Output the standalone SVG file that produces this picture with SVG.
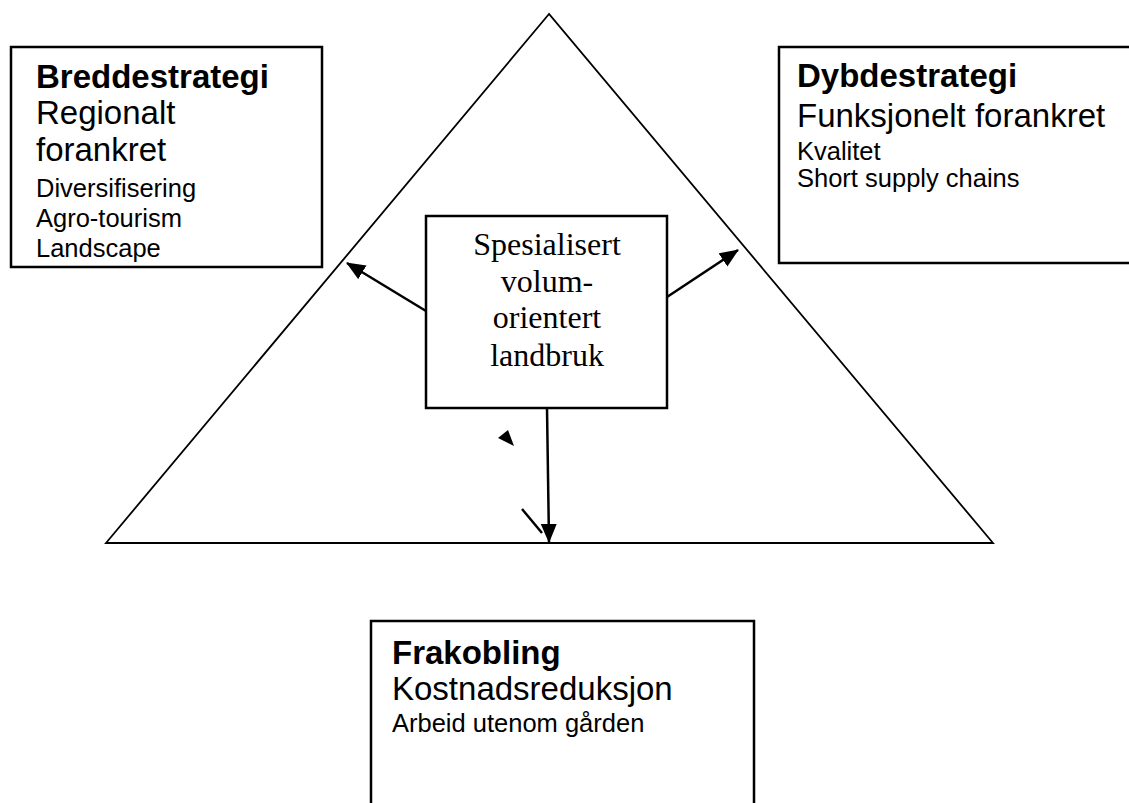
<svg xmlns="http://www.w3.org/2000/svg" width="1129" height="803" viewBox="0 0 1129 803">
<defs>
<style>
.box{fill:#fff;stroke:#000;stroke-width:2.5}
.tri{fill:none;stroke:#000;stroke-width:1.8}
.conn{fill:none;stroke:#000;stroke-width:2.5}
.a{font-family:"Liberation Sans",Arial,sans-serif;fill:#000}
.b{font-weight:bold;font-size:33px}
.l{font-size:33px}
.s{font-size:25.5px}
.t{font-family:"Liberation Serif","Times New Roman",serif;font-size:32px;fill:#000;text-anchor:middle}
</style>
<marker id="ah" markerUnits="userSpaceOnUse" markerWidth="22" markerHeight="18" refX="18" refY="8" orient="auto">
<path d="M0,0 L19,8 L0,16 Z" fill="#000"/>
</marker>
</defs>
<rect width="1129" height="803" fill="#fff"/>
<g id="triangle">
<path class="tri" d="M549,14 L106,543 L993,543 Z"/>
</g>
<g id="breddestrategi">
<rect class="box" x="11" y="47" width="311" height="220"/>
<text class="a b" x="36" y="88">Breddestrategi</text>
<text class="a l" x="36" y="124">Regionalt</text>
<text class="a l" x="36" y="161">forankret</text>
<text class="a s" x="36" y="197">Diversifisering</text>
<text class="a s" x="36" y="227">Agro-tourism</text>
<text class="a s" x="36" y="257">Landscape</text>
</g>
<g id="dybdestrategi">
<rect class="box" x="779" y="47" width="360" height="216"/>
<text class="a b" x="797" y="87">Dybdestrategi</text>
<text class="a l" x="797" y="127">Funksjonelt forankret</text>
<text class="a s" x="797" y="160">Kvalitet</text>
<text class="a s" x="797" y="187">Short supply chains</text>
</g>
<g id="spesialisert">
<rect class="box" x="426" y="216" width="241" height="192"/>
<text class="t" x="547" y="255">Spesialisert</text>
<text class="t" x="547" y="292">volum-</text>
<text class="t" x="547" y="328">orientert</text>
<text class="t" x="547" y="366">landbruk</text>
</g>
<g id="frakobling">
<path class="box" d="M371,810 L371,621 L754,621 L754,810"/>
<text class="a b" x="392" y="664">Frakobling</text>
<text class="a l" x="392" y="700">Kostnadsreduksjon</text>
<text class="a s" x="392" y="732">Arbeid utenom gården</text>
</g>
<g id="connectors">
<line class="conn" x1="426" y1="311" x2="347" y2="263" marker-end="url(#ah)"/>
<line class="conn" x1="667" y1="297" x2="738" y2="250" marker-end="url(#ah)"/>
<line class="conn" x1="547" y1="408" x2="549" y2="542" marker-end="url(#ah)"/>
<line class="conn" x1="522" y1="509" x2="542" y2="533"/>
<path d="M498,438 L508,430 L514,446 Z" fill="#000"/>
</g>
</svg>
